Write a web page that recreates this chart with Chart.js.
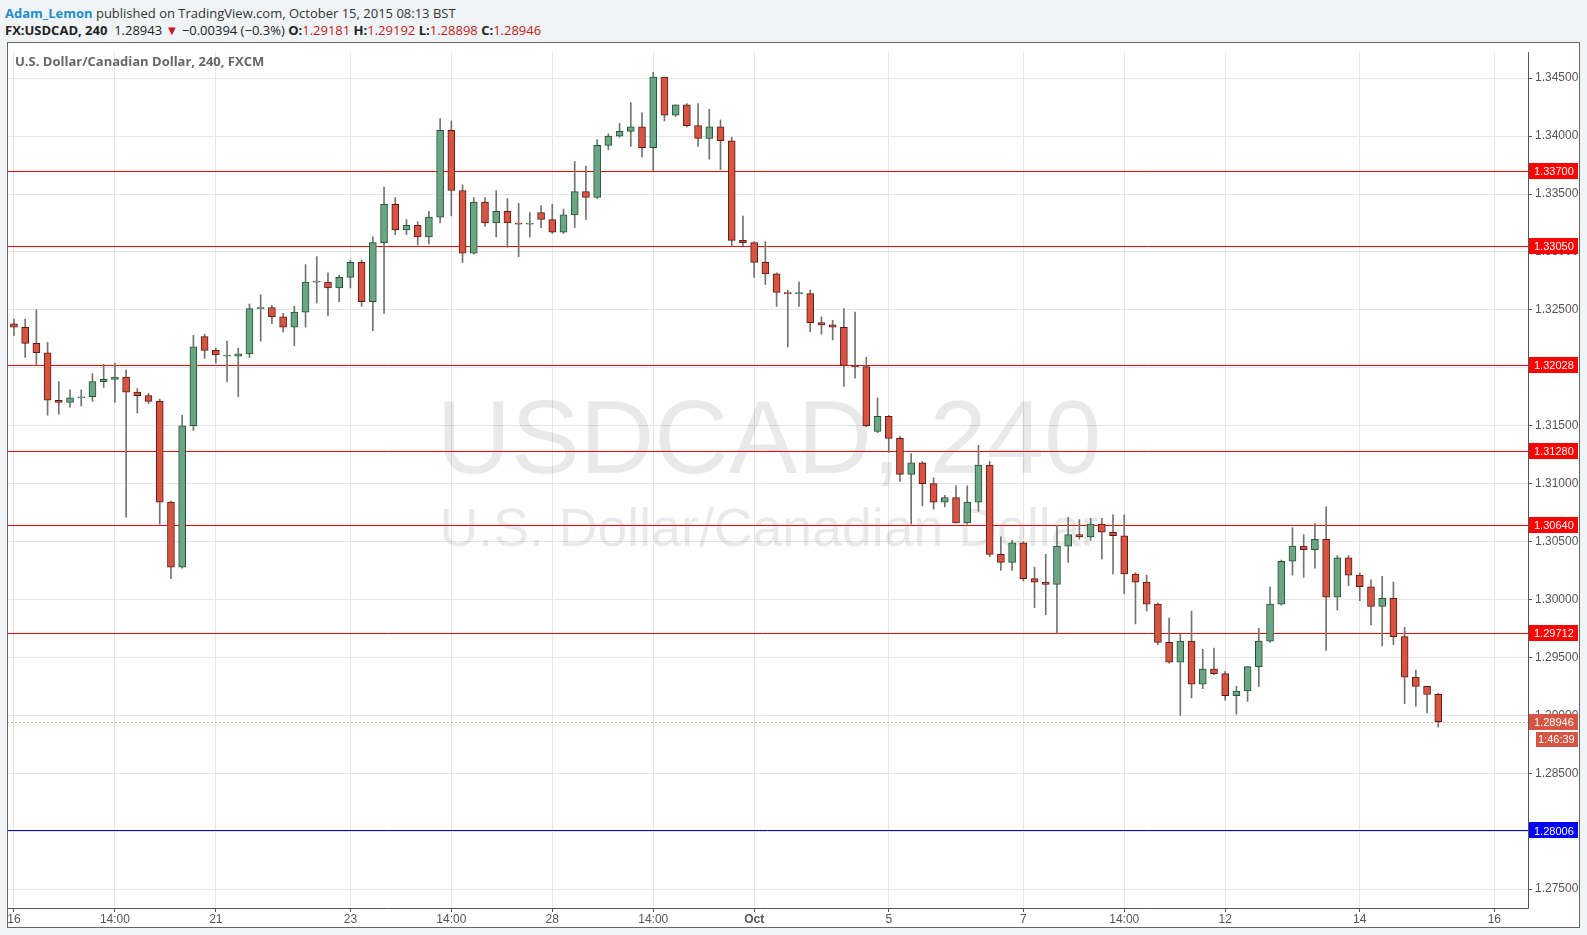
<!DOCTYPE html>
<html>
<head>
<meta charset="utf-8">
<script src="https://cdn.jsdelivr.net/npm/chart.js@4.4.0/dist/chart.umd.min.js"></script>
<style>
  body { margin: 0; background: #f1f4f7; width: 1587px; height: 935px; overflow: hidden; font-family: 'Open Sans', sans-serif; }
  #head1 { position: absolute; left: 5px; top: 4px; font-size: 13px; color: #333; }
  #head1 b { color: #1f8ec9; }
  #head2 { position: absolute; left: 5px; top: 21px; font-size: 13px; color: #222; }
  #head2 .r { color: #c41a1a; }
  #frame { position: absolute; left: 7px; top: 42px; width: 1573px; height: 886px; background: #fff; }
  #title { position: absolute; left: 15px; top: 52px; font-size: 13px; font-weight: bold; color: #666; }
</style>
</head>
<body>
<div id="head1"><b>Adam_Lemon</b> published on TradingView.com, October 15, 2015 08:13 BST</div>
<div id="head2"><b>FX:USDCAD, 240</b>&nbsp; 1.28943 <span class="r">&#9660;</span> &minus;0.00394 (&minus;0.3%) <b>O:</b><span class="r">1.29181</span> <b>H:</b><span class="r">1.29192</span> <b>L:</b><span class="r">1.28898</span> <b>C:</b><span class="r">1.28946</span></div>
<div id="frame"><canvas id="chart" width="1573" height="886"></canvas></div>
<div id="title">U.S. Dollar/Canadian Dollar, 240, FXCM</div>
<script>
// ── Data (4h candles, USDCAD) ─────────────────────────────
const opens = [1.3238,1.3235,1.3221,1.3213,1.3172,1.3170,1.3174,1.3175,1.3188,1.3190,1.3192,1.3179,1.3176,1.3171,1.3084,1.3028,1.3150,1.3227,1.3215,1.3210,
  1.3210,1.3212,1.3251,1.3252,1.3244,1.3235,1.3248,1.3274,1.3274,1.3269,1.3278,1.3291,1.3257,1.3308,1.3341,1.3319,1.3323,1.3313,1.3330,1.3405,
  1.3353,1.3299,1.3343,1.3325,1.3335,1.3325,1.3324,1.3334,1.3328,1.3317,1.3332,1.3352,1.3347,1.3392,1.3400,1.3404,1.3408,1.3390,1.3451,1.3418,
  1.3427,1.3409,1.3398,1.3408,1.3396,1.3310,1.3308,1.3291,1.3281,1.3265,1.3264,1.3264,1.3239,1.3237,1.3235,1.3202,1.3201,1.3145,1.3158,1.3139,
  1.3108,1.3118,1.3100,1.3084,1.3088,1.3066,1.3084,1.3116,1.3039,1.3032,1.3049,1.3018,1.3015,1.3013,1.3046,1.3056,1.3054,1.3065,1.3058,1.3055,
  1.3022,1.3015,1.2996,1.2963,1.2946,1.2964,1.2927,1.2940,1.2936,1.2917,1.2921,1.2942,1.2964,1.2996,1.3033,1.3046,1.3043,1.3052,1.3002,1.3036,
  1.3021,1.3011,1.2994,1.3001,1.2968,1.2933,1.2925,1.29181];
const highs = [1.3242,1.3242,1.3250,1.3222,1.3188,1.3181,1.3181,1.3195,1.3203,1.3204,1.3198,1.3182,1.3178,1.3173,1.3085,1.3159,1.3228,1.3229,1.3217,1.3223,
  1.3217,1.3255,1.3263,1.3254,1.3247,1.3253,1.3289,1.3296,1.3282,1.3280,1.3293,1.3293,1.3313,1.3356,1.3347,1.3328,1.3326,1.3335,1.3415,1.3413,
  1.3358,1.3347,1.3347,1.3353,1.3346,1.3342,1.3334,1.3340,1.3341,1.3337,1.3378,1.3374,1.3397,1.3402,1.3411,1.3429,1.3420,1.3455,1.3451,1.3427,
  1.3428,1.3428,1.3423,1.3414,1.3399,1.3331,1.3309,1.3309,1.3282,1.3267,1.3274,1.3267,1.3244,1.3241,1.3251,1.3248,1.3209,1.3174,1.3159,1.3141,
  1.3126,1.3119,1.3105,1.3090,1.3098,1.3098,1.3133,1.3119,1.3054,1.3051,1.3050,1.3028,1.3039,1.3064,1.3071,1.3069,1.3070,1.3070,1.3073,1.3073,
  1.3023,1.3021,1.2997,1.2984,1.2970,1.2990,1.2957,1.2958,1.2938,1.2925,1.2942,1.2975,1.3011,1.3034,1.3062,1.3056,1.3066,1.3080,1.3038,1.3038,
  1.3023,1.3017,1.3020,1.3015,1.2976,1.2939,1.2925,1.29192];
const lows = [1.3228,1.3209,1.3202,1.3159,1.3160,1.3166,1.3167,1.3171,1.3183,1.3170,1.3071,1.3161,1.3169,1.3065,1.3018,1.3027,1.3146,1.3208,1.3204,1.3188,
  1.3175,1.3209,1.3223,1.3238,1.3231,1.3219,1.3235,1.3256,1.3245,1.3257,1.3269,1.3253,1.3232,1.3247,1.3315,1.3315,1.3306,1.3307,1.3325,1.3331,
  1.3291,1.3298,1.3322,1.3313,1.3304,1.3296,1.3313,1.3321,1.3316,1.3316,1.3321,1.3328,1.3346,1.3388,1.3399,1.3391,1.3382,1.3370,1.3413,1.3417,
  1.3408,1.3391,1.3380,1.3371,1.3305,1.3305,1.3278,1.3272,1.3253,1.3218,1.3253,1.3231,1.3229,1.3224,1.3184,1.3191,1.3149,1.3144,1.3127,1.3102,
  1.3065,1.3081,1.3078,1.3080,1.3066,1.3065,1.3076,1.3037,1.3025,1.3025,1.3016,1.2993,1.2987,1.2971,1.3032,1.3052,1.3051,1.3035,1.3022,1.3005,
  1.2979,1.2990,1.2961,1.2945,1.2900,1.2915,1.2923,1.2935,1.2913,1.2901,1.2912,1.2925,1.2963,1.2995,1.3021,1.3019,1.3027,1.2956,1.2991,1.3012,
  1.2999,1.2978,1.2960,1.2961,1.2910,1.2908,1.2902,1.28898];
const closes = [1.3235,1.3221,1.3213,1.3172,1.3170,1.3174,1.3175,1.3188,1.3190,1.3192,1.3179,1.3176,1.3171,1.3084,1.3028,1.3150,1.3218,1.3215,1.3211,1.3210,
  1.3212,1.3251,1.3252,1.3244,1.3235,1.3248,1.3274,1.3274,1.3269,1.3278,1.3291,1.3257,1.3308,1.3341,1.3319,1.3323,1.3313,1.3330,1.3405,1.3353,
  1.3299,1.3343,1.3325,1.3335,1.3325,1.3324,1.3324,1.3328,1.3317,1.3332,1.3352,1.3347,1.3392,1.3400,1.3404,1.3408,1.3390,1.3451,1.3418,1.3427,
  1.3409,1.3398,1.3408,1.3396,1.3310,1.3308,1.3291,1.3281,1.3265,1.3264,1.3264,1.3239,1.3237,1.3235,1.3202,1.3201,1.3150,1.3158,1.3139,1.3108,
  1.3118,1.3100,1.3084,1.3088,1.3066,1.3084,1.3116,1.3039,1.3032,1.3049,1.3018,1.3015,1.3013,1.3046,1.3056,1.3054,1.3065,1.3058,1.3055,1.3022,
  1.3015,1.2996,1.2963,1.2946,1.2964,1.2927,1.2940,1.2936,1.2917,1.2921,1.2942,1.2964,1.2996,1.3033,1.3046,1.3043,1.3052,1.3002,1.3036,1.3021,
  1.3011,1.2994,1.3001,1.2968,1.2933,1.2925,1.2918,1.28946];

// x tick labels: bar index -> label
const xTickIdx = [0, 9, 18, 30, 39, 48, 57, 66, 78, 90, 99, 108, 120, 132];
const xTickLabels = ['16', '14:00', '21', '23', '14:00', '28', '14:00', 'Oct', '5', '7', '14:00', '12', '14', '16'];
const yTicks = [1.275, 1.280, 1.285, 1.290, 1.295, 1.300, 1.305, 1.310, 1.315, 1.320, 1.325, 1.330, 1.335, 1.340, 1.345];

// horizontal levels drawn on chart
const redLevels = [1.33700, 1.33050, 1.32028, 1.31280, 1.30640, 1.29712];
const blueLevels = [1.28006];
const lastPrice = 1.28946;
const countdown = '1:46:39';

// ── Build datasets ────────────────────────────────────────
const UP = '#6ba583', UP_B = '#225437', DN = '#d75442', DN_B = '#5b1a13';
const wicks = opens.map((o, i) => ({ x: i, y: [lows[i], highs[i]] }));
const bodies = opens.map((o, i) => ({ x: i, y: [o, closes[i]] }));
const isUp = opens.map((o, i) => closes[i] >= o);

const font = "'Liberation Sans', Arial, sans-serif";

const overlay = {
    id: 'overlay',
    beforeDatasetsDraw(chart) {
        const { ctx, chartArea: a, scales: { y } } = chart;
        ctx.save();
        ctx.fillStyle = 'rgba(0,0,0,0.085)';
        ctx.textAlign = 'center';
        ctx.textBaseline = 'middle';
        const fit = (txt, w, x, cy, size) => {
            ctx.font = size + 'px ' + font;
            const s = size * w / ctx.measureText(txt).width;
            ctx.font = s + 'px ' + font;
            ctx.fillText(txt, x, cy);
        };
        fit('USDCAD, 240', 665, 762, 403, 100);
        fit('U.S. Dollar/Canadian Dollar', 659, 762, 489, 50);
        // levels
        ctx.lineWidth = 1;
        const hline = (v, col, dash) => {
            const py = Math.round(y.getPixelForValue(v)) + 0.5;
            ctx.strokeStyle = col;
            ctx.setLineDash(dash || []);
            ctx.beginPath(); ctx.moveTo(a.left, py); ctx.lineTo(a.right, py); ctx.stroke();
        };
        redLevels.forEach(v => hline(v, '#ff0000'));
        blueLevels.forEach(v => hline(v, '#0000ee'));
        hline(lastPrice, '#e8a8a0', [2, 2]);
        ctx.restore();
    },
    afterDraw(chart) {
        const { ctx, chartArea: a, scales: { y } } = chart;
        ctx.save();
        // frame + axes
        ctx.strokeStyle = '#555';
        ctx.lineWidth = 1;
        ctx.beginPath();
        ctx.moveTo(a.right + 0.5, a.top); ctx.lineTo(a.right + 0.5, a.bottom + 0.5); ctx.lineTo(a.left, a.bottom + 0.5);
        ctx.stroke();
        ctx.strokeStyle = '#666';
        ctx.strokeRect(0.5, 0.5, chart.width - 1, chart.height - 1);
        ctx.font = '11px ' + font;
        ctx.textBaseline = 'middle';
        ctx.textAlign = 'left';
        const tag = (v, col, txt, dy) => {
            const py = y.getPixelForValue(v) + (dy || 0);
            ctx.fillStyle = col;
            ctx.fillRect(a.right + 1, Math.round(py) - 8, 49, 16);
            ctx.fillStyle = '#fff';
            ctx.fillText(txt, a.right + 6, py + 1);
        };
        redLevels.forEach(v => tag(v, '#ff0000', v.toFixed(5)));
        blueLevels.forEach(v => tag(v, '#0000ff', v.toFixed(5)));
        tag(lastPrice, DN, lastPrice.toFixed(5));
        const py = y.getPixelForValue(lastPrice) + 17;
        ctx.fillStyle = DN;
        ctx.fillRect(a.right + 8, Math.round(py) - 7, 42, 15);
        ctx.fillStyle = '#fff';
        ctx.fillText(countdown, a.right + 10, py + 1);
        ctx.restore();
    }
};

new Chart(document.getElementById('chart'), {
    type: 'bar',
    data: {
        datasets: [
            { data: wicks, backgroundColor: '#737373', barThickness: 1, grouped: false, order: 2 },
            {
                data: bodies, grouped: false, order: 1, barThickness: 7, minBarLength: 1, borderSkipped: false, borderWidth: 1,
                backgroundColor: isUp.map(u => u ? UP : DN), borderColor: isUp.map(u => u ? UP_B : DN_B)
            }
        ]
    },
    options: {
        responsive: false, animation: false, devicePixelRatio: 1,
        layout: { padding: 0 },
        plugins: { legend: { display: false }, tooltip: { enabled: false } },
        scales: {
            x: {
                type: 'linear', min: -0.62, max: 135, offset: false, bounds: 'ticks',
                afterDataLimits: s => { s.min = -0.62; s.max = 135; },
                afterBuildTicks: s => { s.ticks = xTickIdx.map(v => ({ value: v })); },
                afterFit: s => { s.height = 20; },
                grid: { color: '#e6e6e6', tickLength: 4, tickColor: '#555', offset: false },
                border: { display: false },
                ticks: {
                    color: '#555', font: c => ({ family: font, size: 12, weight: xTickLabels[c.index] === 'Oct' ? 'bold' : 'normal' }),
                    padding: 0, maxRotation: 0, autoSkip: false,
                    callback: (v, i) => xTickLabels[i]
                }
            },
            y: {
                position: 'right', min: 1.27337, max: 1.34724,
                afterBuildTicks: s => { s.ticks = yTicks.map(v => ({ value: v })); },
                afterFit: s => { s.width = 52; },
                grid: { color: '#e6e6e6', tickLength: 4, tickColor: '#555' },
                border: { display: false },
                ticks: { color: '#555', font: { family: font, size: 12 }, padding: 3, callback: v => v.toFixed(5) }
            }
        }
    },
    plugins: [overlay]
});
</script>
</body>
</html>
